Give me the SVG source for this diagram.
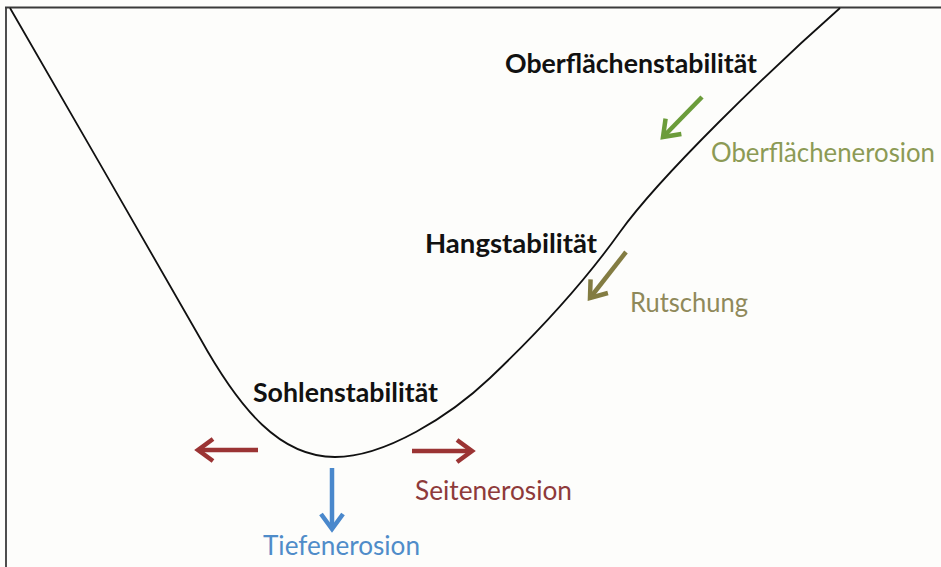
<svg xmlns="http://www.w3.org/2000/svg" width="941" height="567" viewBox="0 0 941 567">
<style>
.lbl{font-family:Lato,"Open Sans","Liberation Sans",sans-serif;}
.bold{font-weight:700;font-size:26px;fill:#111;}
.reg{font-weight:400;font-size:27px;}
.arr{fill:none;stroke-width:4.5;stroke-linecap:butt;}
.head{fill:none;stroke-width:4.5;stroke-linejoin:miter;}
</style>
<defs>
<marker id="hGreen" markerUnits="userSpaceOnUse" markerWidth="30" markerHeight="30" refX="0" refY="0" viewBox="-20 -15 25 30" orient="auto" overflow="visible"><path class="head" d="M-15,-11 L0,0 L-15,11" stroke="#6b9c3a"/></marker>
<marker id="hOlive" markerUnits="userSpaceOnUse" markerWidth="30" markerHeight="30" refX="0" refY="0" viewBox="-20 -15 25 30" orient="auto" overflow="visible"><path class="head" d="M-15,-11 L0,0 L-15,11" stroke="#837c42"/></marker>
<marker id="hRed" markerUnits="userSpaceOnUse" markerWidth="30" markerHeight="30" refX="0" refY="0" viewBox="-20 -15 25 30" orient="auto" overflow="visible"><path class="head" d="M-15,-11 L0,0 L-15,11" stroke="#9b3434"/></marker>
<marker id="hBlue" markerUnits="userSpaceOnUse" markerWidth="30" markerHeight="30" refX="0" refY="0" viewBox="-20 -15 25 30" orient="auto" overflow="visible"><path class="head" d="M-15,-11 L0,0 L-15,11" stroke="#4a88cc"/></marker>
</defs>
<rect x="0" y="0" width="941" height="567" fill="#fdfdfb"/>
<g id="frame" fill="none" stroke="#3a3a3a" stroke-width="1.8">
<path d="M5,7.5 H941"/>
<path d="M6,7 V567"/>
</g>
<g id="valley">
<path d="M10,8 C60,95 150,250 200,338 C240,410 280,457 335,457 C385,457 450,416 490,378 C530,340 580,288 620,232 C660,176 770,70 840,8" fill="none" stroke="#111" stroke-width="1.8"/>
</g>
<g id="connectors">
<path id="arrow-oberflaeche" class="arr" d="M702,97 L663,137" stroke="#6b9c3a" marker-end="url(#hGreen)"/>
<path id="arrow-rutschung" class="arr" d="M626,252 L590,298" stroke="#837c42" marker-end="url(#hOlive)"/>
<path id="arrow-seite-links" class="arr" d="M258,450 L198,450" stroke="#9b3434" marker-end="url(#hRed)"/>
<path id="arrow-seite-rechts" class="arr" d="M412,451 L472,451" stroke="#9b3434" marker-end="url(#hRed)"/>
<path id="arrow-tiefe" class="arr" d="M332,468 L332,529" stroke="#4a88cc" marker-end="url(#hBlue)"/>
</g>
<g id="node-oberflaechenstabilitaet"><text class="lbl bold" x="505" y="73" textLength="252" lengthAdjust="spacingAndGlyphs">Oberflächenstabilität</text></g>
<g id="node-oberflaechenerosion"><text class="lbl reg" x="711" y="162" textLength="224" lengthAdjust="spacingAndGlyphs" fill="#8c9a55">Oberflächenerosion</text></g>
<g id="node-hangstabilitaet"><text class="lbl bold" x="425" y="253" textLength="172" lengthAdjust="spacingAndGlyphs">Hangstabilität</text></g>
<g id="node-rutschung"><text class="lbl reg" x="630" y="312" textLength="118" lengthAdjust="spacingAndGlyphs" fill="#8f895a">Rutschung</text></g>
<g id="node-sohlenstabilitaet"><text class="lbl bold" x="253" y="402" textLength="185" lengthAdjust="spacingAndGlyphs">Sohlenstabilität</text></g>
<g id="node-seitenerosion"><text class="lbl reg" x="415" y="500" textLength="157" lengthAdjust="spacingAndGlyphs" fill="#8e3a3a">Seitenerosion</text></g>
<g id="node-tiefenerosion"><text class="lbl reg" x="263" y="555" textLength="157" lengthAdjust="spacingAndGlyphs" fill="#4f8cc9">Tiefenerosion</text></g>
</svg>
